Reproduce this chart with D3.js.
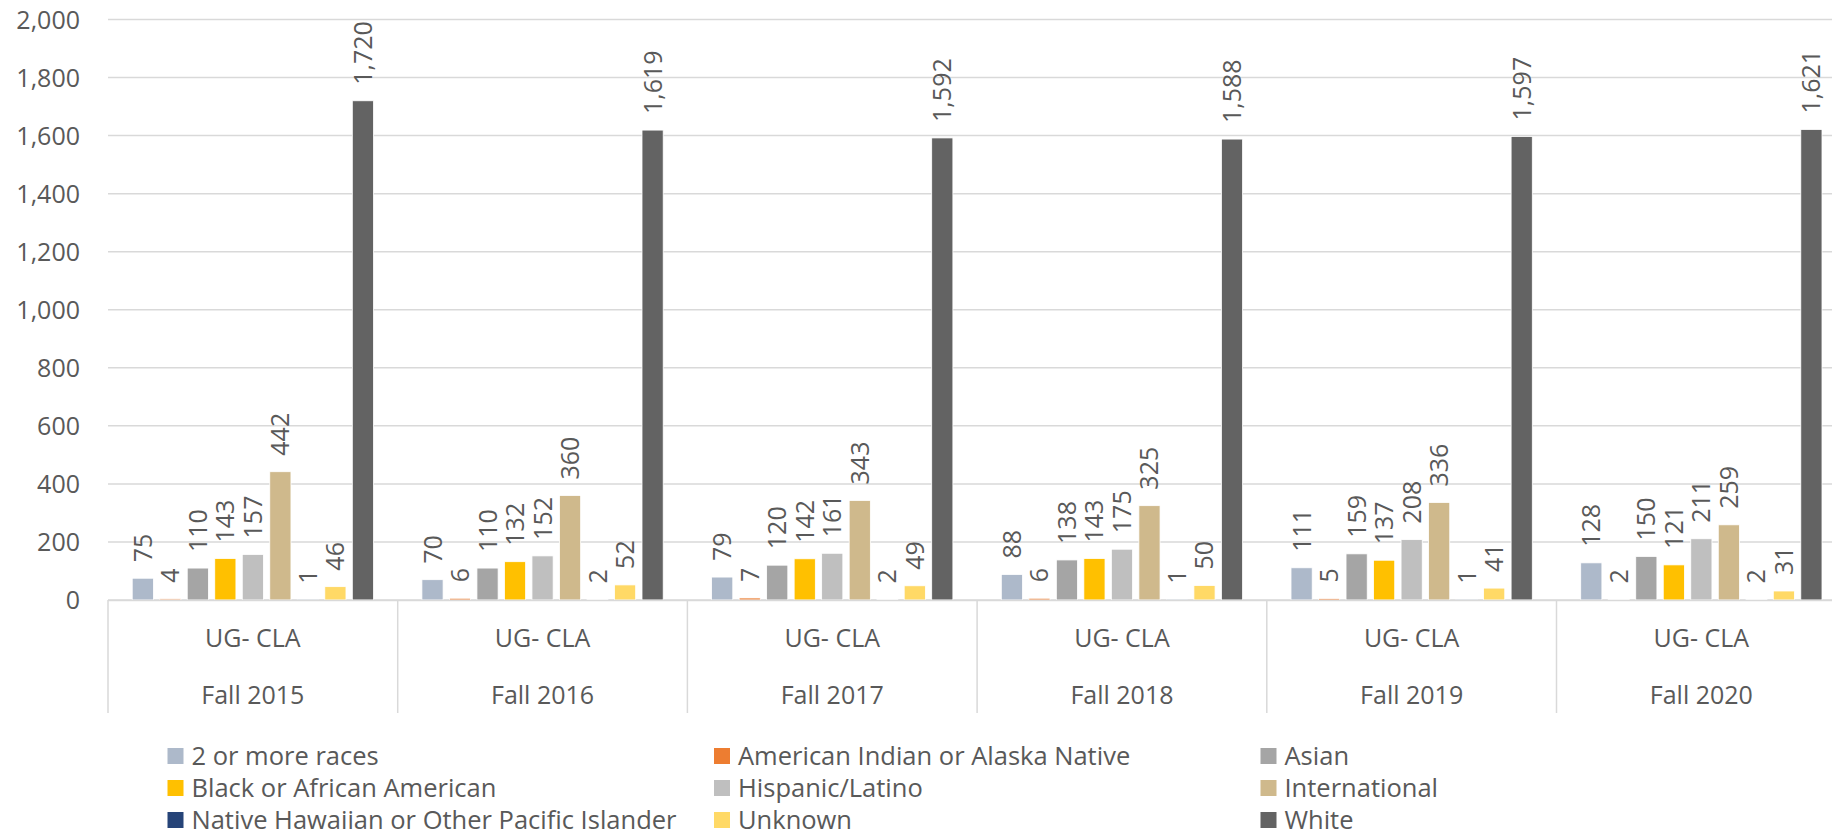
<!DOCTYPE html>
<html>
<head>
<meta charset="utf-8">
<script src="https://cdn.jsdelivr.net/npm/d3@7"></script>
<style>
  html, body { margin: 0; padding: 0; background: #fff; }
  svg { display: block; font-family: "Open Sans", "DejaVu Sans", sans-serif; }
</style>
</head>
<body>
<svg id="chart" width="1832" height="837"></svg>
<script>
// Undergraduate CLA enrolment by race/ethnicity, fall terms
const terms = ["Fall 2015", "Fall 2016", "Fall 2017", "Fall 2018", "Fall 2019", "Fall 2020"];
const unitLabel = "UG- CLA";
const groups = [
  "2 or more races",
  "American Indian or Alaska Native",
  "Asian",
  "Black or African American",
  "Hispanic/Latino",
  "International",
  "Native Hawaiian or Other Pacific Islander",
  "Unknown",
  "White"
];
const twoOrMore      = [75, 70, 79, 88, 111, 128];
const americanIndian = [4, 6, 7, 6, 5, 2];
const asian          = [110, 110, 120, 138, 159, 150];
const black          = [143, 132, 142, 143, 137, 121];
const hispanic       = [157, 152, 161, 175, 208, 211];
const international  = [442, 360, 343, 325, 336, 259];
const nativeHawaiian = [1, 2, 2, 1, 1, 2];
const unknown        = [46, 52, 49, 50, 41, 31];
const white          = [1720, 1619, 1592, 1588, 1597, 1621];
const seriesValues = [twoOrMore, americanIndian, asian, black, hispanic,
                      international, nativeHawaiian, unknown, white];
const yTicks = [0, 200, 400, 600, 800, 1000, 1200, 1400, 1600, 1800, 2000];

const colors = ["#ADB9CA", "#ED7D31", "#A5A5A5", "#FFC000", "#BFBFBF",
                "#CFB98C", "#264478", "#FFD966", "#636363"];

const svg = d3.select("#chart");
const textColor = "#595959";
const gridColor = "#D9D9D9";
const fontSize = 25;
const legendFontSize = 25.5;

const plotLeft = 108, groupWidth = 289.7;
const yBase = 600, yTop = 19.5;

const x0 = d3.scaleBand().domain(terms)
  .range([plotLeft, plotLeft + groupWidth * terms.length]).padding(0);
const x1 = d3.scaleBand().domain(groups)
  .range([0, x0.bandwidth()]).paddingInner(0.23).paddingOuter(0.88);
const y = d3.scaleLinear().domain([0, 2000]).range([yBase, yTop]);
const color = d3.scaleOrdinal().domain(groups).range(colors);

// Horizontal gridlines
svg.append("g").selectAll("line").data(yTicks).join("line")
  .attr("x1", plotLeft).attr("x2", x0.range()[1])
  .attr("y1", d => y(d)).attr("y2", d => y(d))
  .attr("stroke", gridColor).attr("stroke-width", 1.5);

// Y axis labels
const yAxis = d3.axisLeft(y).tickValues(yTicks).tickFormat(d3.format(",")).tickSize(0).tickPadding(0);
const yg = svg.append("g").attr("transform", "translate(80,0)").call(yAxis);
yg.select(".domain").remove();
yg.selectAll("text")
  .attr("fill", textColor).attr("font-size", fontSize)
  .attr("font-family", "'Open Sans', sans-serif")
  .attr("dy", "0.35em");

// Bars
const groupSel = svg.append("g").selectAll("g").data(terms).join("g")
  .attr("transform", d => `translate(${x0(d)},0)`);

const cells = (term, ti) => groups.map((g, gi) => ({ term, group: g, value: seriesValues[gi][ti] }));

groupSel.selectAll("rect").data((t, i) => cells(t, i)).join("rect")
  .attr("x", d => x1(d.group))
  .attr("width", x1.bandwidth())
  .attr("y", d => y(d.value))
  .attr("height", d => yBase - y(d.value))
  .attr("fill", d => color(d.group))
  .attr("stroke", "#ffffff").attr("stroke-width", 0.8);

// Value labels, rotated
groupSel.selectAll("text.val").data((t, i) => cells(t, i)).join("text")
  .attr("class", "val")
  .attr("transform", d => `translate(${x1(d.group) + x1.bandwidth() / 2},${y(d.value) - 16}) rotate(-90)`)
  .attr("dy", "0.36em")
  .attr("text-anchor", "start")
  .attr("fill", textColor).attr("font-size", fontSize)
  .text(d => d3.format(",")(d.value));

// Category axis: baseline, dividers and two label rows
svg.append("line")
  .attr("x1", plotLeft).attr("x2", x0.range()[1])
  .attr("y1", yBase + 0.5).attr("y2", yBase + 0.5)
  .attr("stroke", gridColor).attr("stroke-width", 1.5);

const dividers = terms.map(t => x0(t)).concat([x0.range()[1]]);
svg.append("g").selectAll("line").data(dividers).join("line")
  .attr("x1", d => d).attr("x2", d => d)
  .attr("y1", yBase).attr("y2", 713)
  .attr("stroke", gridColor).attr("stroke-width", 1.5);

const catG = svg.append("g");
catG.selectAll("text.unit").data(terms).join("text")
  .attr("class", "unit")
  .attr("x", d => x0(d) + x0.bandwidth() / 2).attr("y", 638)
  .attr("dy", "0.35em").attr("text-anchor", "middle")
  .attr("fill", textColor).attr("font-size", fontSize)
  .text(unitLabel);
catG.selectAll("text.term").data(terms).join("text")
  .attr("class", "term")
  .attr("x", d => x0(d) + x0.bandwidth() / 2).attr("y", 695)
  .attr("dy", "0.35em").attr("text-anchor", "middle")
  .attr("fill", textColor).attr("font-size", fontSize)
  .text(d => d);

// Legend: three columns, three rows
const legendCols = [167.5, 714, 1260.5];
const legendRows = [756, 788, 820];
const legend = svg.append("g").selectAll("g").data(groups).join("g")
  .attr("transform", (d, i) => `translate(${legendCols[i % 3]},${legendRows[Math.floor(i / 3)]})`);
legend.append("rect")
  .attr("x", 0).attr("y", -8).attr("width", 16).attr("height", 16)
  .attr("fill", d => color(d));
legend.append("text")
  .attr("x", 24).attr("y", 0).attr("dy", "0.35em")
  .attr("fill", textColor).attr("font-size", legendFontSize)
  .text(d => d);
</script>
</body>
</html>
